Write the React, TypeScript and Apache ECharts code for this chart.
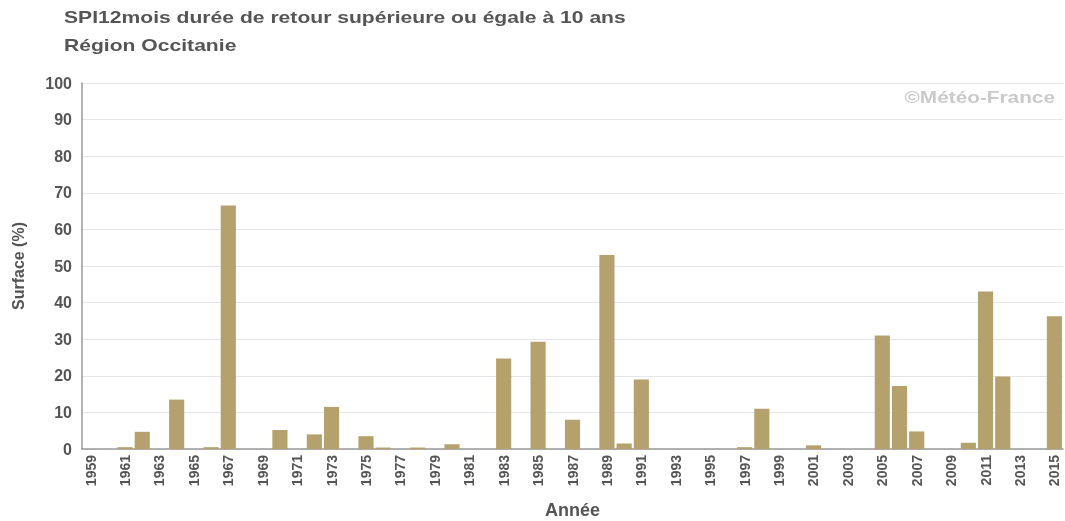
import React, { useEffect, useRef } from "react";
import * as echarts from "echarts";

const years: string[] = [];
for (let y = 1959; y <= 2015; y++) years.push(String(y));

const surface: number[] = [
  0, 0, 0.5, 4.7, 0, 13.5, 0, 0.5, 66.5, 0, // 1959-1968
  0, 5.2, 0, 4, 11.5, 0, 3.5, 0.4, 0, 0.4, // 1969-1978
  0, 1.3, 0, 0, 24.7, 0, 29.3, 0, 8, 0, // 1979-1988
  53, 1.5, 19, 0, 0, 0, 0, 0, 0.5, 11, // 1989-1998
  0, 0, 1, 0, 0, 0, 31, 17.2, 4.8, 0, // 1999-2008
  0, 1.7, 43, 19.8, 0, 0, 36.3, // 2009-2015
];

const titleLine1 = "SPI12mois durée de retour supérieure ou égale à 10 ans";
const titleLine2 = "Région Occitanie";
const watermark = "©Météo-France";

export default function App() {
  const ref = useRef<HTMLDivElement>(null);
  useEffect(() => {
    const chart = echarts.init(ref.current!, undefined, { renderer: "svg" });
    const font = "'Liberation Sans', Arial, sans-serif";
    chart.setOption({
      animation: false,
      textStyle: { fontFamily: font },
      graphic: [
        {
          type: "text",
          x: 64,
          y: 17,
          scaleX: 1.32,
          style: {
            text: titleLine1,
            fill: "#555",
            font: `bold 16px ${font}`,
            verticalAlign: "middle",
          },
        },
        {
          type: "text",
          x: 64,
          y: 45,
          scaleX: 1.32,
          style: {
            text: titleLine2,
            fill: "#555",
            font: `bold 16px ${font}`,
            verticalAlign: "middle",
          },
        },
        {
          type: "text",
          x: 1055,
          y: 97,
          scaleX: 1.3,
          style: {
            text: watermark,
            fill: "#cacaca",
            font: `bold 16px ${font}`,
            align: "right",
            verticalAlign: "middle",
          },
        },
      ],
      grid: {
        left: 82,
        right: 2,
        top: 83,
        bottom: 72,
        containLabel: false,
        outerBoundsMode: "none",
      },
      xAxis: {
        type: "category",
        data: years,
        name: "Année",
        nameLocation: "middle",
        nameGap: 52,
        nameTextStyle: { color: "#555", fontWeight: "bold", fontSize: 18 },
        axisLine: { lineStyle: { color: "#999", width: 1.5 } },
        axisTick: { show: false },
        axisLabel: {
          rotate: 90,
          interval: 1,
          color: "#555",
          fontWeight: "bold",
          fontSize: 14,
          margin: 6,
        },
      },
      yAxis: {
        type: "value",
        min: 0,
        max: 100,
        interval: 10,
        name: "Surface (%)",
        nameLocation: "middle",
        nameGap: 56,
        nameRotate: 90,
        nameTextStyle: { color: "#555", fontWeight: "bold", fontSize: 16 },
        axisLine: { show: true, lineStyle: { color: "#999", width: 1.5 } },
        axisTick: { show: false },
        axisLabel: { color: "#555", fontWeight: "bold", fontSize: 16, margin: 10 },
        splitLine: { lineStyle: { color: "#e6e6e6" } },
      },
      series: [
        {
          type: "bar",
          data: surface,
          barCategoryGap: "12%",
          itemStyle: { color: "#b4a16d" },
        },
      ],
    });
    return () => chart.dispose();
  }, []);
  return (
    <div
      ref={ref}
      style={{ position: "fixed", left: 0, top: 0, width: 1065, height: 521 }}
    />
  );
}
